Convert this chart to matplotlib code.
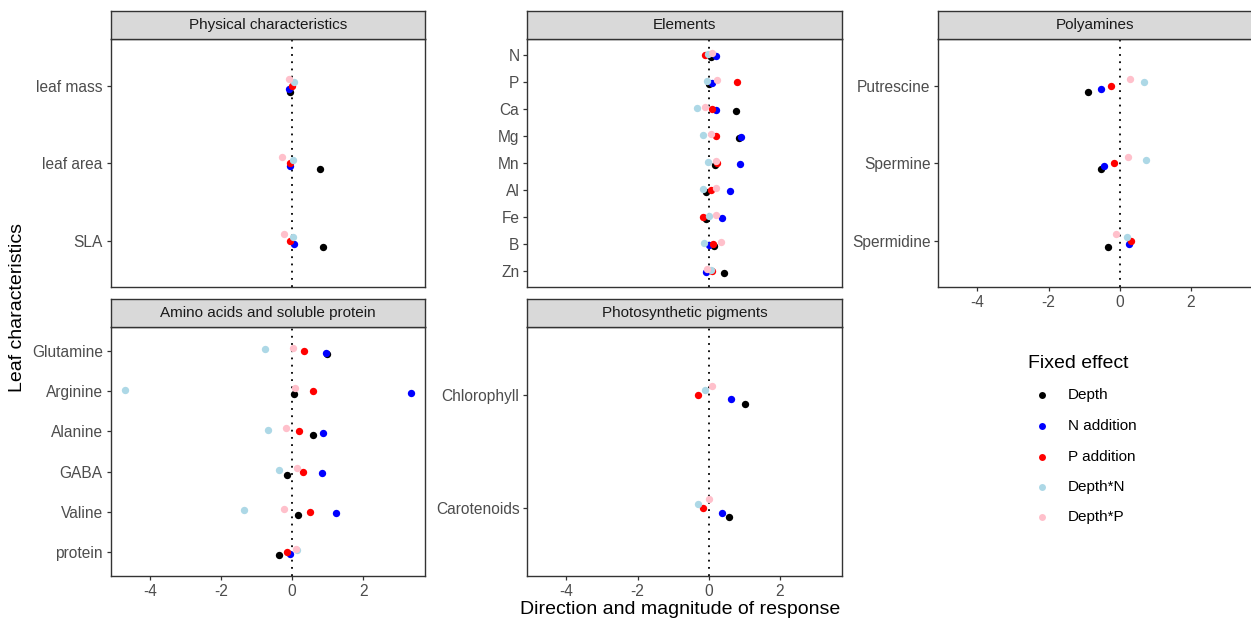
import matplotlib
matplotlib.use("Agg")
import matplotlib.pyplot as plt
from matplotlib.lines import Line2D

plt.rcParams['font.family'] = ['Liberation Sans', 'DejaVu Sans']

W, H = 1251, 625

effects = ["Depth", "N addition", "P addition", "Depth*N", "Depth*P"]
colors = ["#000000", "#0000FF", "#FF0000", "#ADD8E6", "#FFC0CB"]

# ---- data (top-to-bottom category order) ----
phys_cats = ["leaf mass", "leaf area", "SLA"]
phys_depth = [-0.05, 0.80, 0.87]
phys_n = [-0.09, -0.05, 0.05]
phys_p = [0.00, -0.07, -0.07]
phys_dn = [0.05, 0.03, 0.02]
phys_dp = [-0.08, -0.28, -0.22]

elem_cats = ["N", "P", "Ca", "Mg", "Mn", "Al", "Fe", "B", "Zn"]
elem_depth = [0.07, 0.02, 0.76, 0.85, 0.19, -0.07, -0.07, 0.16, 0.42]
elem_n = [0.21, 0.09, 0.20, 0.91, 0.89, 0.61, 0.38, 0.00, -0.07]
elem_p = [-0.09, 0.80, 0.10, 0.21, 0.24, 0.07, -0.16, 0.11, 0.10]
elem_dn = [-0.03, -0.04, -0.32, -0.16, -0.03, -0.15, 0.00, -0.12, 0.07]
elem_dp = [0.08, 0.22, -0.09, 0.06, 0.20, 0.20, 0.21, 0.36, -0.04]

poly_cats = ["Putrescine", "Spermine", "Spermidine"]
poly_depth = [-0.88, -0.52, -0.32]
poly_n = [-0.51, -0.45, 0.25]
poly_p = [-0.23, -0.16, 0.31]
poly_dn = [0.69, 0.74, 0.21]
poly_dp = [0.28, 0.24, -0.10]

amino_cats = ["Glutamine", "Arginine", "Alanine", "GABA", "Valine", "protein"]
amino_depth = [0.98, 0.05, 0.58, -0.15, 0.17, -0.37]
amino_n = [0.96, 3.34, 0.87, 0.84, 1.25, -0.07]
amino_p = [0.33, 0.59, 0.19, 0.30, 0.50, -0.15]
amino_dn = [-0.76, -4.71, -0.68, -0.37, -1.34, 0.14]
amino_dp = [0.02, 0.09, -0.17, 0.14, -0.22, 0.12]

pig_cats = ["Chlorophyll", "Carotenoids"]
pig_depth = [1.01, 0.57]
pig_n = [0.62, 0.37]
pig_p = [-0.31, -0.16]
pig_dn = [-0.09, -0.31]
pig_dp = [0.10, 0.00]

x_ticks = [-4, -2, 0, 2]
xlim = (-5.10, 3.74)

panels = [
    ("Physical characteristics", phys_cats, [phys_depth, phys_n, phys_p, phys_dn, phys_dp], (110.7, 39, 425, 287), False),
    ("Elements", elem_cats, [elem_depth, elem_n, elem_p, elem_dn, elem_dp], (527.3, 39, 841.7, 287), False),
    ("Polyamines", poly_cats, [poly_depth, poly_n, poly_p, poly_dn, poly_dp], (938.3, 39, 1252.6, 287), True),
    ("Amino acids and soluble protein", amino_cats, [amino_depth, amino_n, amino_p, amino_dn, amino_dp], (110.7, 327, 425, 576), True),
    ("Photosynthetic pigments", pig_cats, [pig_depth, pig_n, pig_p, pig_dn, pig_dp], (527.3, 327, 841.7, 576), True),
]
strip_h = 28
dodge = [-0.08, -0.04, 0.0, 0.04, 0.08]

fig = plt.figure(figsize=(W / 100, H / 100), dpi=100)
fig.patch.set_facecolor("white")

def rect(l, t, r, b):
    return [l / W, 1 - b / H, (r - l) / W, (b - t) / H]

border = "#333333"
for title, cats, series, (l, t, r, b), show_x in panels:
    ax = fig.add_axes(rect(l, t, r, b))
    n = len(cats)
    ypos = [n - i for i in range(n)]
    ax.axvline(0, color="black", linestyle=(0, (1, 3)), linewidth=1.3, zorder=1)
    for k, vals in enumerate(series):
        ax.scatter(vals, [y + dodge[k] for y in ypos], s=28, color=colors[k],
                   linewidths=0, zorder=3 + k)
    ax.set_xlim(*xlim)
    ax.set_ylim(0.4, n + 0.6)
    ax.set_yticks(ypos)
    ax.set_yticklabels(cats)
    ax.set_xticks(x_ticks)
    ax.set_xticklabels([str(v) for v in x_ticks])
    ax.tick_params(axis="both", length=3.2, width=0.9, color=border,
                   labelcolor="#4D4D4D", labelsize=11.2, pad=2.5)
    if not show_x:
        ax.tick_params(axis="x", labelbottom=False, length=0)
    for sp in ax.spines.values():
        sp.set_color(border)
        sp.set_linewidth(1.0)
    sax = fig.add_axes(rect(l, t - strip_h, r, t))
    sax.set_facecolor("#D9D9D9")
    sax.set_xticks([])
    sax.set_yticks([])
    for sp in sax.spines.values():
        sp.set_color(border)
        sp.set_linewidth(1.0)
    sax.text(0.5, 0.5, title, ha="center", va="center", fontsize=11.0,
             color="#1A1A1A", transform=sax.transAxes)

fig.text(680 / W, 1 - 609 / H, "Direction and magnitude of response",
         ha="center", va="center", fontsize=14, color="black")
fig.text(18 / W, 1 - 307 / H, "Leaf characteristics", ha="center", va="center",
         rotation=90, fontsize=14, color="black")

# legend
fig.text(1027.7 / W, 1 - 363 / H, "Fixed effect", ha="left", va="center",
         fontsize=14, color="black")
leg_y = [395, 426, 456.7, 486.7, 516.7]
for k, lab in enumerate(effects):
    fig.add_artist(Line2D([1042 / W], [1 - leg_y[k] / H], marker="o", markersize=5.0,
                          color=colors[k], linestyle="none", markeredgewidth=0,
                          transform=fig.transFigure))
    fig.text(1067.7 / W, 1 - leg_y[k] / H, lab, ha="left", va="center",
             fontsize=11.0, color="black")

fig.savefig("out.png", dpi=100, facecolor="white")
